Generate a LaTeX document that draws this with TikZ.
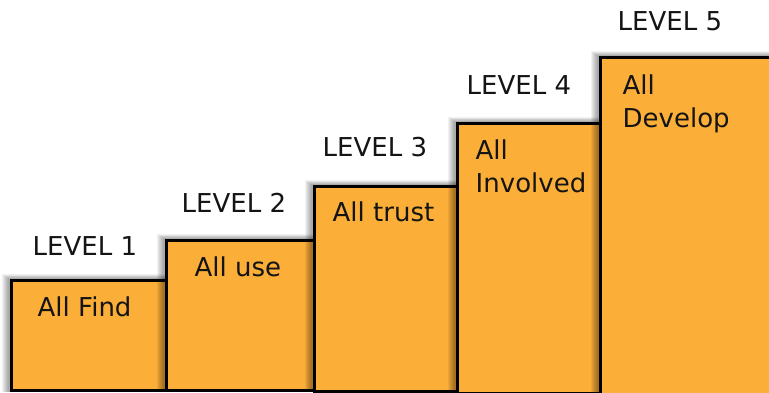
\documentclass[tikz,border=0pt]{standalone}
\usepackage{fontspec}
\setmainfont{DejaVu Sans}
\definecolor{stepfill}{RGB}{251,174,56}
\definecolor{inktext}{RGB}{20,20,20}
\begin{document}
\begin{tikzpicture}[x=1pt,y=-1pt,
  stair/.style={draw=black,line width=3pt,fill=stepfill},
  caption/.style={anchor=base west,inner sep=0pt,text=inktext,
    font=\fontsize{26}{33}\selectfont},
  body/.style={anchor=base west,inner sep=0pt,text=inktext,align=left,
    font=\fontsize{26}{33}\selectfont}]
\useasboundingbox (0,0) rectangle (769,392);
\clip (0,0) rectangle (769,392);
% soft drop shadow behind a step, cast up and to the left
\newcommand{\stepshadow}[4]{%
  \foreach \i in {1,...,7}{
    \fill[black,opacity=0.055] (#1-1-\i,#2-0.7*\i) rectangle (#3,#4);
  }}
% steps, drawn left to right so each one overlaps the previous
\stepshadow{10}{279}{165}{392}
\node[stair,anchor=north west,minimum width=155pt,minimum height=110pt,inner sep=0pt] (s1) at (10,279) {};
\stepshadow{165}{239}{313}{392}
\node[stair,anchor=north west,minimum width=148pt,minimum height=150pt,inner sep=0pt] (s2) at (165,239) {};
\stepshadow{313}{185}{456}{392}
\node[stair,anchor=north west,minimum width=143pt,minimum height=205pt,inner sep=0pt] (s3) at (313,185) {};
\stepshadow{456}{122}{600}{392}
\node[stair,anchor=north west,minimum width=144pt,minimum height=270pt,inner sep=0pt] (s4) at (456,122) {};
\stepshadow{599}{56}{780}{400}
\node[stair,anchor=north west,minimum width=190pt,minimum height=345pt,inner sep=0pt] (s5) at (599,56) {};
% step texts (two-line texts are placed by the baseline of their last line)
\node[body] (t1) at (37.5,316.5) {All Find};
\node[body] (t2) at (194.5,276.5) {All use};
\node[body] (t3) at (332.5,221.5) {All trust};
\node[body] (t4) at (475.5,192.5) {All\\Involved};
\node[body] (t5) at (622.5,127.5) {All\\Develop};
% level captions above the steps
\node[caption] (l1) at (32.5,255.5) {LEVEL 1};
\node[caption] (l2) at (181.5,212.5) {LEVEL 2};
\node[caption] (l3) at (322.5,156.5) {LEVEL 3};
\node[caption] (l4) at (466.5,94.5) {LEVEL 4};
\node[caption] (l5) at (617.5,30.5) {LEVEL 5};
\end{tikzpicture}
\end{document}
